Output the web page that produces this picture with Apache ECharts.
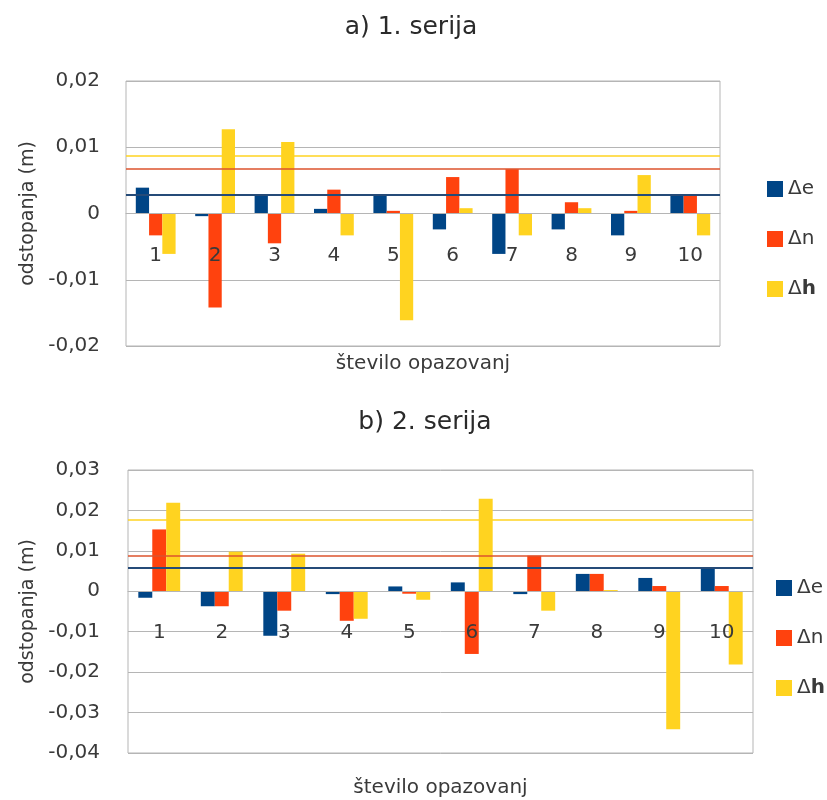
<!DOCTYPE html>
<html><head><meta charset="utf-8">
<script src="https://cdn.jsdelivr.net/npm/echarts@6/dist/echarts.min.js"></script>
<style>html,body{margin:0;padding:0;background:#fff}#c{width:827px;height:800px}</style>
</head><body><div id="c"></div>
<script>
// ---- data ----
const categories = ['1','2','3','4','5','6','7','8','9','10'];
const seriesNames = ['Δe','Δn','Δh'];
const titleA = 'a) 1. serija';
const titleB = 'b) 2. serija';
const xName = 'število opazovanj';
const yName = 'odstopanja (m)';
// series a (1. serija)
const a_de = [0.0039,-0.0004,0.0028,0.0007,0.0028,-0.0024,-0.0061,-0.0024,-0.0033,0.0028];
const a_dn = [-0.0033,-0.0142,-0.0045,0.0036,0.0004,0.0055,0.0067,0.0017,0.0004,0.0028];
const a_dh = [-0.0061,0.0127,0.0108,-0.0033,-0.0161,0.0008,-0.0033,0.0008,0.0058,-0.0033];
const a_limits = [0.0028, 0.0067, 0.0087]; // Δe, Δn, Δh
const a_yMin = -0.02, a_yMax = 0.02, a_yStep = 0.01;
// series b (2. serija)
const b_de = [-0.0016,-0.0037,-0.0110,-0.0007,0.0012,0.0022,-0.0007,0.0043,0.0033,0.0059];
const b_dn = [0.0153,-0.0037,-0.0048,-0.0073,-0.0006,-0.0155,0.0088,0.0043,0.0013,0.0013];
const b_dh = [0.0219,0.0098,0.0093,-0.0068,-0.0021,0.0229,-0.0048,0.0003,-0.0341,-0.0181];
const b_limits = [0.0058, 0.0088, 0.0177];
const b_yMin = -0.04, b_yMax = 0.03, b_yStep = 0.01;

// ---- style / layout ----
const colors = ['#004586','#ff420e','#ffd320'];
const lineColors = ['#254b78','#dc532c','#ffd320'];
const lineWidths = [2, 1.5, 1.5];
const FONT = 'DejaVu Sans';
const TXT = '#3a3a3a';
const GRID_C = '#b5b5b5';
const gridA = {left:126, top:81, width:594, height:265};
const gridB = {left:128, top:470, width:625, height:283};

function fmt(v){
  const r = Math.round(v*100)/100;
  if (r === 0) return '0';
  return r.toFixed(2).replace('.', ',');
}
// distance (px) from grid bottom up to the zero line, from the axis range
function zeroOffset(g, mn, mx){ return -g.height * (0 - mn) / (mx - mn); }

function makeSeries(gi, arrs, limits){
  return arrs.map((d,i)=>({
    name: seriesNames[i], type:'bar', xAxisIndex:gi, yAxisIndex:gi,
    data:d, barGap:'0%', barCategoryGap:'33%',
    itemStyle:{color:colors[i]},
    markLine:{
      silent:true, symbol:'none', label:{show:false}, precision:6,
      lineStyle:{color:lineColors[i], width:lineWidths[i], type:'solid'},
      emphasis:{disabled:true},
      data:[{yAxis:limits[i]}]
    }
  }));
}

function xAxisCfg(gi, gap, off){
  return {
    type:'category', gridIndex:gi, data:categories, z:10, offset:off,
    axisLine:{show:true, onZero:false, lineStyle:{color:GRID_C, width:1}},
    axisTick:{show:false},
    axisLabel:{margin:32, fontSize:20, fontFamily:FONT, color:TXT},
    name:xName, nameLocation:'middle', nameGap:gap,
    nameTextStyle:{fontSize:20, fontFamily:FONT, color:TXT}
  };
}
function yAxisCfg(gi, mn, mx, st, margin){
  return {
    type:'value', gridIndex:gi, min:mn, max:mx, interval:st,
    axisLine:{show:false}, axisTick:{show:false},
    splitLine:{show:true, lineStyle:{color:GRID_C, width:1}},
    axisLabel:{margin:margin, fontSize:20, fontFamily:FONT, color:TXT, formatter:fmt},
    name:yName, nameLocation:'middle', nameGap:88, nameRotate:90,
    nameTextStyle:{fontSize:19, fontFamily:FONT, color:TXT}
  };
}
function legendCfg(left, top){
  return {
    orient:'vertical', left:left, top:top, itemWidth:16, itemHeight:16, itemGap:30,
    icon:'rect', data:seriesNames, selectedMode:false,
    formatter: n => n==='Δh' ? 'Δ{b|h}' : n,
    textStyle:{fontSize:20, fontFamily:FONT, color:TXT,
      rich:{b:{fontSize:20, fontFamily:FONT, color:TXT, fontWeight:'bold'}}}
  };
}

const chart = echarts.init(document.getElementById('c'), null, {renderer:'canvas'});
chart.setOption({
  animation:false,
  backgroundColor:'#fff',
  title:[
    {text:titleA, left:406, top:10, textAlign:'center',
     textStyle:{fontSize:25, fontWeight:'normal', fontFamily:FONT, color:'#2a2a2a'}},
    {text:titleB, left:420, top:405, textAlign:'center',
     textStyle:{fontSize:25, fontWeight:'normal', fontFamily:FONT, color:'#2a2a2a'}}
  ],
  legend:[legendCfg(762, 174), legendCfg(771, 573)],
  grid:[
    Object.assign({show:true, borderColor:GRID_C, borderWidth:1, containLabel:false, outerBoundsMode:'none'}, gridA),
    Object.assign({show:true, borderColor:GRID_C, borderWidth:1, containLabel:false, outerBoundsMode:'none'}, gridB)
  ],
  xAxis:[xAxisCfg(0, 140, zeroOffset(gridA, a_yMin, a_yMax)), xAxisCfg(1, 187, zeroOffset(gridB, b_yMin, b_yMax))],
  yAxis:[yAxisCfg(0, a_yMin, a_yMax, a_yStep, 26), yAxisCfg(1, b_yMin, b_yMax, b_yStep, 28)],
  series:[].concat(makeSeries(0,[a_de,a_dn,a_dh],a_limits), makeSeries(1,[b_de,b_dn,b_dh],b_limits))
});
</script>
</body></html>
